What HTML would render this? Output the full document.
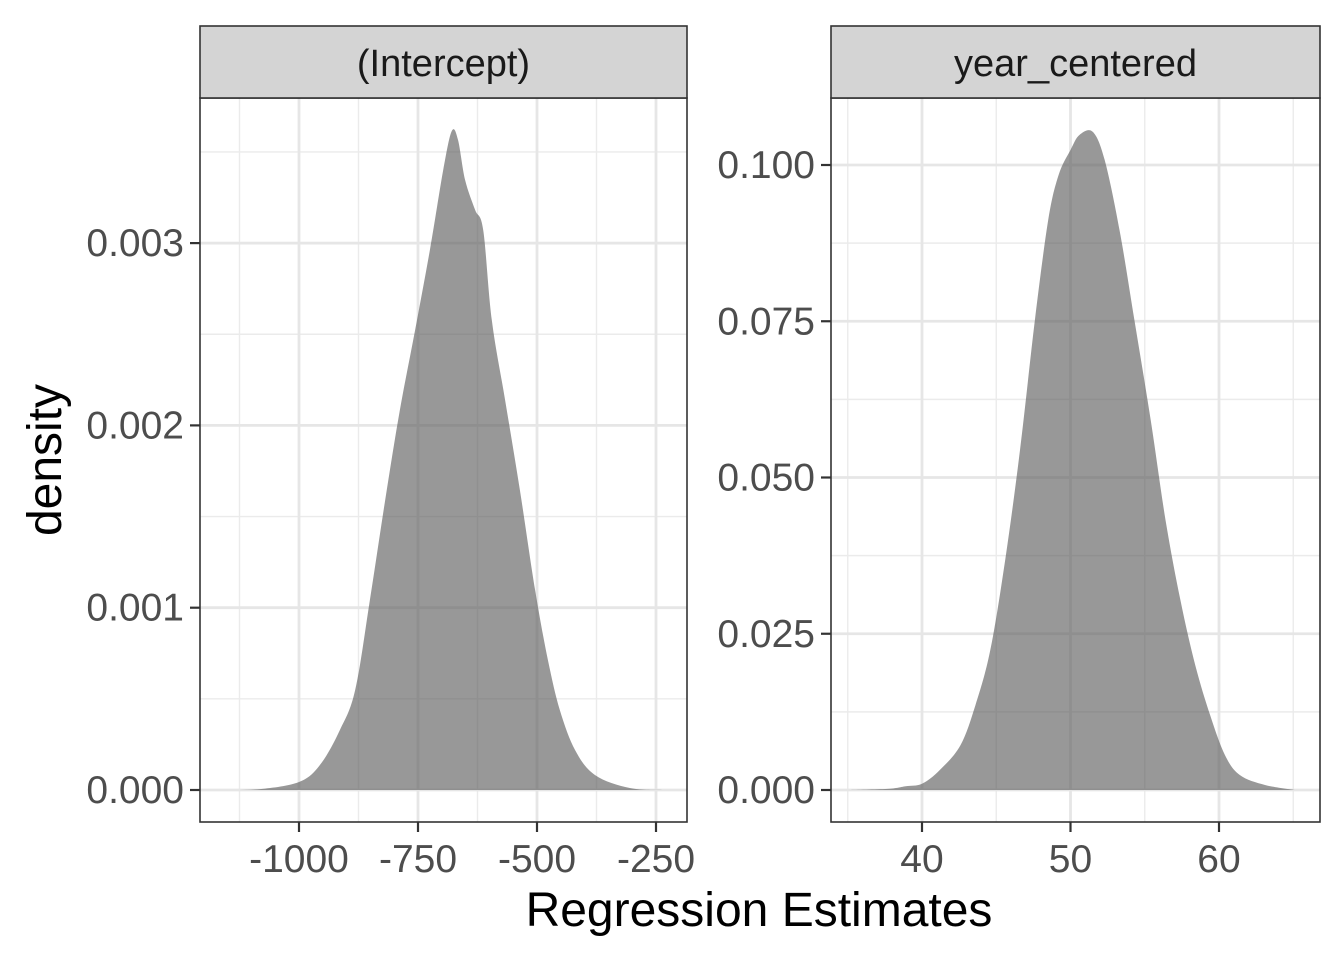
<!DOCTYPE html>
<html><head><meta charset="utf-8"><style>
body{margin:0;background:#fff;}
svg text{font-family:"Liberation Sans",Arial,sans-serif;}
</style></head><body>
<svg id="chart" width="1344" height="960"></svg>
<script>
const leftX = [-1164,-1082,-1000,-956,-914,-882,-851,-819,-788,-756,-725,-697,-679,-666,-651,-630,-613,-595,-567,-536,-504,-477,-452,-420,-378,-305,-229];
const leftD = [0,0.005,0.044,0.137,0.329,0.549,1.042,1.591,2.085,2.523,2.962,3.401,3.615,3.566,3.346,3.182,3.072,2.578,2.139,1.645,1.097,0.713,0.439,0.219,0.082,0.011,0].map(v=>v/1000);
const rightX = [35.2,37.8,38.9,40,41.2,42.6,43.6,44.6,45.6,46.6,47.6,48.5,49.2,50.0,50.6,51.5,52.3,53.3,54.3,55.4,56.4,57.4,58.4,59.4,60.4,61.4,63.1,65.1];
const rightD = [0,.0002,.0006,.001,.0032,.0072,.0136,.0224,.0368,.0544,.0752,.0912,.0984,.1024,.1048,.1053,.1008,.0896,.0752,.0592,.0432,.0304,.02,.012,.0056,.0024,.0008,0];
const leftXTicks = [-1000,-750,-500,-250];
const leftXMinor = [-1125,-875,-625,-375];
const leftYTicks = [0,0.001,0.002,0.003];
const leftYLabels = ["0.000","0.001","0.002","0.003"];
const leftYMinor = [0.0005,0.0015,0.0025,0.0035];
const rightXTicks = [40,50,60];
const rightXMinor = [35,45,55,65];
const rightYTicks = [0,0.025,0.05,0.075,0.1];
const rightYLabels = ["0.000","0.025","0.050","0.075","0.100"];
const rightYMinor = [0.0125,0.0375,0.0625,0.0875];

const svg = document.getElementById('chart');
const NS = 'http://www.w3.org/2000/svg';
function mk(tag, attrs, parent){const e=document.createElementNS(NS,tag);for(const k in attrs)e.setAttribute(k,attrs[k]);(parent||svg).appendChild(e);return e;}

function smoothPath(pts){
  let d='M'+pts[0][0].toFixed(1)+','+pts[0][1].toFixed(1);
  for(let i=0;i<pts.length-1;i++){
    const p0=pts[Math.max(0,i-1)],p1=pts[i],p2=pts[i+1],p3=pts[Math.min(pts.length-1,i+2)];
    const c1=[p1[0]+(p2[0]-p0[0])/6,p1[1]+(p2[1]-p0[1])/6];
    const c2=[p2[0]-(p3[0]-p1[0])/6,p2[1]-(p3[1]-p1[1])/6];
    d+=' C'+c1[0].toFixed(1)+','+c1[1].toFixed(1)+' '+c2[0].toFixed(1)+','+c2[1].toFixed(1)+' '+p2[0].toFixed(1)+','+p2[1].toFixed(1);
  }
  return d;
}

function panel(name, x0, x1, y0, y1, sx, sy, xs, ds, xT, xM, yT, yL, yM, title){
  const g = mk('g',{});
  
  
  mk('rect',{x:x0,y:y0,width:x1-x0,height:y1-y0,fill:'#fff'},g);
  xM.forEach(v=>{const l=mk('line',{x1:sx(v),x2:sx(v),y1:y0,y2:y1,stroke:'#ebebeb','stroke-width':1.4},g);
    });
  yM.forEach(v=>{const l=mk('line',{x1:x0,x2:x1,y1:sy(v),y2:sy(v),stroke:'#ebebeb','stroke-width':1.4},g);
    });
  xT.forEach(v=>{const l=mk('line',{x1:sx(v),x2:sx(v),y1:y0,y2:y1,stroke:'#e6e6e6','stroke-width':2.8},g);
    });
  yT.forEach(v=>{const l=mk('line',{x1:x0,x2:x1,y1:sy(v),y2:sy(v),stroke:'#e6e6e6','stroke-width':2.8},g);
    });
  const pts=xs.map((v,i)=>[sx(v),sy(ds[i])]);
  const d=smoothPath(pts)+' Z';
  const p=mk('path',{d:d,fill:'rgba(89,89,89,0.62)'},g);
  
  const b=mk('rect',{x:x0,y:y0,width:x1-x0,height:y1-y0,fill:'none',stroke:'#333','stroke-width':1.6},g);
  
  const s=mk('rect',{x:x0,y:26,width:x1-x0,height:y0-26,fill:'#d4d4d4',stroke:'#333','stroke-width':1.6},g);
  
  const st=mk('text',{x:(x0+x1)/2,y:76,'text-anchor':'middle','font-size':38,fill:'#1a1a1a'},g);
  st.textContent=title;
  
  xT.forEach(v=>{
    mk('line',{x1:sx(v),x2:sx(v),y1:y1,y2:y1+10,stroke:'#333','stroke-width':2.2},g);
    const t=mk('text',{x:sx(v),y:y1+50,'text-anchor':'middle','font-size':39,fill:'#4d4d4d'},g);
    t.textContent=String(v);
    
  });
  yT.forEach((v,i)=>{
    mk('line',{x1:x0-10,x2:x0,y1:sy(v),y2:sy(v),stroke:'#333','stroke-width':2.2},g);
    const t=mk('text',{x:x0-16,y:sy(v)+13,'text-anchor':'end','font-size':39,fill:'#4d4d4d'},g);
    t.textContent=yL[i];
    
  });
}
panel('intercept',200,687,98,822,v=>299+(v+1000)*0.476,v=>790-v*182300,leftX,leftD,leftXTicks,leftXMinor,leftYTicks,leftYLabels,leftYMinor,'(Intercept)');
panel('year-centered',831,1320,98,822,v=>922+(v-40)*14.85,v=>790-v*6250,rightX,rightD,rightXTicks,rightXMinor,rightYTicks,rightYLabels,rightYMinor,'year_centered');
const xt=mk('text',{x:759,y:926,'text-anchor':'middle','font-size':48,fill:'#000'});
xt.textContent='Regression Estimates';


const yt=mk('text',{x:0,y:0,'text-anchor':'middle','font-size':48,fill:'#000',transform:'translate(61,460) rotate(-90)'});
yt.textContent='density';


</script>
</body></html>
